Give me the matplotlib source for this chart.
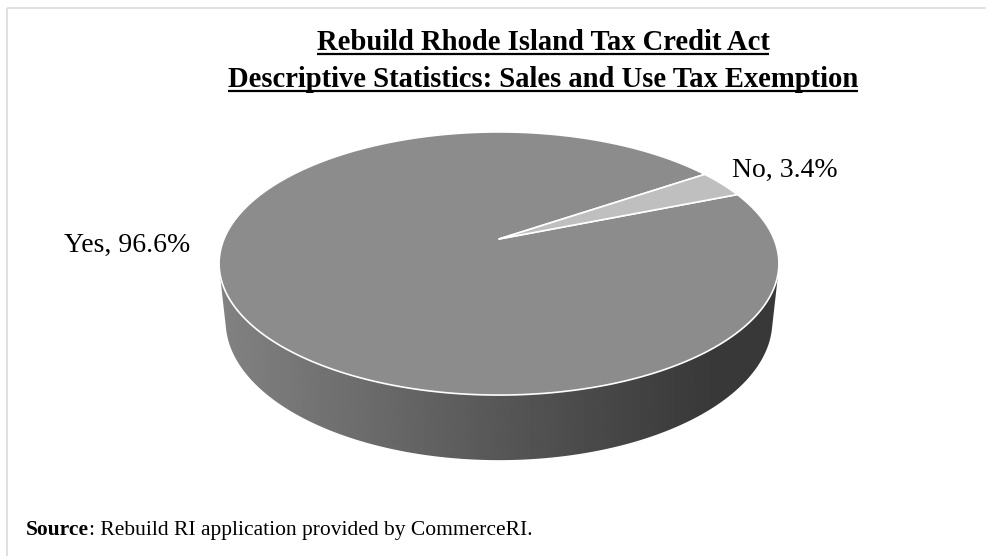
import numpy as np
import matplotlib
matplotlib.use('Agg')
import matplotlib.pyplot as plt
from matplotlib.patches import Polygon, Rectangle

# Chart content
TITLE_LINES = [
    "Rebuild Rhode Island Tax Credit Act",
    "Descriptive Statistics: Sales and Use Tax Exemption",
]
CATEGORIES = ["Yes", "No"]
SHARES = [96.6, 3.4]
SLICE_COLORS = ["#8c8c8c", "#bfbfbf"]
SOURCE_LABEL = "Source"
SOURCE_TEXT = ": Rebuild RI application provided by CommerceRI."

# Canvas in pixels
W, H = 986, 556
SERIF = "Liberation Serif"

# 3-D pie camera (perspective view of a flat disc)
CX, CY = 499.0, 239.0       # screen position of the pie centre
SCALE = 275.0
TILT = np.radians(27.5)
DIST = 4.76
DEPTH = 0.238               # thickness of the disc, in radius units
FIRST_SLICE_DEG = 68        # clockwise from 12 o'clock


def project(theta, y=0.0):
    """Project points on the disc rim (angle theta, height y) to screen pixels."""
    x3 = np.cos(theta)
    z3 = np.sin(theta)
    depth = DIST - y * np.sin(TILT) + z3 * np.cos(TILT)
    up = y * np.cos(TILT) + z3 * np.sin(TILT)
    u = CX + SCALE * x3 * DIST / depth
    v = CY - SCALE * up * DIST / depth
    return np.column_stack([u, v])


def convex_hull(points):
    """Monotone chain hull, returns vertices in order."""
    pts = sorted(map(tuple, points))

    def cross(o, a, b):
        return (a[0] - o[0]) * (b[1] - o[1]) - (a[1] - o[1]) * (b[0] - o[0])

    lower, upper = [], []
    for p in pts:
        while len(lower) >= 2 and cross(lower[-2], lower[-1], p) <= 0:
            lower.pop()
        lower.append(p)
    for p in reversed(pts):
        while len(upper) >= 2 and cross(upper[-2], upper[-1], p) <= 0:
            upper.pop()
        upper.append(p)
    return np.array(lower[:-1] + upper[:-1])


fig = plt.figure(figsize=(W / 100, H / 100), dpi=100)
ax = fig.add_axes([0, 0, 1, 1])
ax.set_xlim(0, W)
ax.set_ylim(H, 0)
ax.axis('off')

# chart area border (only top and left edges fall inside the canvas)
ax.add_patch(Rectangle((7, 8), W + 20, H + 20, facecolor='none',
                       edgecolor='#d9d9d9', linewidth=1.1))

# side wall: horizontal grey gradient clipped to the outline of the disc
rim = np.linspace(0, 2 * np.pi, 721)
outline = convex_hull(np.vstack([project(rim, 0.0), project(rim, -DEPTH)]))
clip = Polygon(outline, closed=True, facecolor='none', edgecolor='none')
ax.add_patch(clip)
xs = np.arange(W)
shade = np.interp(xs, [220, 500, 700, 780], [130, 87, 58, 56]) / 255
side = ax.imshow(np.tile(shade, (2, 1)), cmap='gray', vmin=0, vmax=1,
                 extent=(0, W, H, 0), aspect='auto', interpolation='bilinear')
side.set_clip_path(clip)
ax.set_xlim(0, W)
ax.set_ylim(H, 0)

# top face slices, drawn clockwise from the first-slice angle
fractions = np.array(SHARES) / np.sum(SHARES)
start = np.radians(90 - FIRST_SLICE_DEG)
for frac, color in zip(fractions, SLICE_COLORS):
    end = start - frac * 2 * np.pi
    arc = project(np.linspace(start, end, 400), 0.0)
    verts = np.vstack([[CX, CY], arc])
    ax.add_patch(Polygon(verts, closed=True, facecolor=color, edgecolor='white',
                         linewidth=1.2, joinstyle='round'))
    start = end

# data labels
label_pos = [(127, 245), (785, 170)]
for name, share, (lx, ly) in zip(CATEGORIES, SHARES, label_pos):
    ax.text(lx, ly, f"{name}, {share:.1f}%", ha='center', va='center',
            family=SERIF, fontsize=20, color='black')

# title, bold and underlined
title_x = 543
baselines = [50, 87]
titles = [ax.text(title_x, b, line, ha='center', va='baseline', family=SERIF,
                  fontsize=20.6, fontweight='bold', color='black')
          for line, b in zip(TITLE_LINES, baselines)]

# source note: bold label followed by regular text
src = ax.text(26, 535, SOURCE_LABEL, ha='left', va='baseline', family=SERIF,
              fontsize=15.5, fontweight='bold', color='black')

fig.canvas.draw()
renderer = fig.canvas.get_renderer()
inv = ax.transData.inverted()
for t, b in zip(titles, baselines):
    bb = t.get_window_extent(renderer)
    x0 = inv.transform((bb.x0, bb.y0))[0]
    x1 = inv.transform((bb.x1, bb.y0))[0]
    ax.plot([x0, x1], [b + 4, b + 4], color='black', linewidth=1.6,
            solid_capstyle='butt')

bb = src.get_window_extent(renderer)
src_end = inv.transform((bb.x1, bb.y0))[0]
ax.text(src_end, 535, SOURCE_TEXT, ha='left', va='baseline', family=SERIF,
        fontsize=15.5, color='black')

fig.savefig('out.png', dpi=100)
plt.close(fig)
